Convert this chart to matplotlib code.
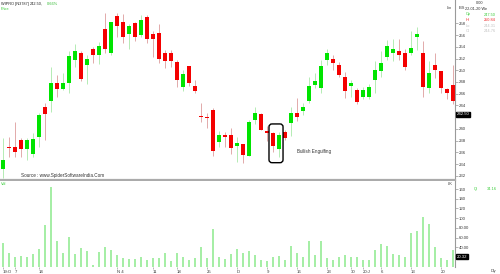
import matplotlib
matplotlib.use("Agg")
import matplotlib.pyplot as plt
from matplotlib.patches import FancyBboxPatch
import numpy as np

plt.rcParams['font.family'] = ['Liberation Sans', 'DejaVu Sans']

# daily WIPRO candles, 03-Oct-2019 .. 22-Jan-2020
opens = [233.1, 237.0, 237.0, 238.1, 236.6, 235.7, 238.7, 243.8, 244.8, 247.9,
         246.8, 247.9, 251.7, 252.9, 250.9, 253.6, 252.6, 257.0, 253.0, 259.2,
         258.3, 256.2, 258.0, 256.0, 259.1, 256.2, 256.3, 253.0, 253.0, 251.4,
         247.1, 250.7, 247.3, 242.2, 242.0, 243.2, 237.8, 238.9, 239.0, 237.1,
         237.4, 235.4, 241.6, 242.5, 239.6, 239.3, 236.5, 239.4, 241.0, 242.8,
         243.1, 244.8, 247.5, 246.9, 251.7, 251.9, 250.9, 248.9, 247.4, 246.6,
         245.5, 245.5, 248.3, 249.9, 252.2, 252.9, 253.2, 252.9, 253.0, 255.7,
         253.0, 246.9, 250.9, 249.8, 246.8, 247.50]
highs = [238.5, 238.7, 241.1, 238.5, 238.4, 239.3, 242.7, 244.4, 250.6, 249.2,
         249.5, 253.3, 254.4, 253.2, 252.6, 254.0, 254.8, 259.8, 258.3, 259.8,
         259.6, 257.8, 258.3, 259.4, 259.4, 256.7, 257.9, 253.5, 253.5, 251.7,
         250.0, 250.8, 248.3, 244.5, 242.8, 243.5, 239.7, 239.5, 240.1, 238.6,
         237.4, 241.5, 243.7, 242.7, 240.5, 239.5, 239.5, 239.8, 243.7, 245.2,
         244.5, 248.8, 249.6, 251.7, 253.6, 252.6, 251.4, 249.7, 248.3, 246.9,
         247.1, 247.7, 251.6, 253.3, 255.2, 255.3, 255.4, 253.7, 256.7, 257.3,
         255.0, 251.5, 252.9, 249.9, 246.9, 250.84]
lows = [231.6, 235.3, 235.3, 235.3, 234.7, 235.3, 237.0, 238.1, 242.9, 245.5,
        246.6, 246.1, 250.6, 248.2, 247.7, 251.2, 251.1, 252.9, 252.6, 255.6,
        254.7, 253.6, 255.0, 255.7, 254.7, 252.3, 251.2, 250.3, 250.6, 247.1,
        246.5, 247.3, 246.1, 241.1, 240.1, 235.4, 237.0, 237.0, 235.7, 234.4,
        234.2, 235.4, 240.8, 239.9, 238.0, 236.0, 235.3, 238.1, 238.8, 241.4,
        242.4, 244.4, 246.9, 246.2, 250.9, 250.0, 248.8, 245.2, 245.5, 244.2,
        245.1, 245.1, 246.2, 248.8, 251.7, 251.5, 251.7, 250.0, 252.6, 253.5,
        245.5, 246.2, 248.6, 246.1, 245.1, 244.31]
closes = [234.7, 236.7, 236.0, 236.6, 238.1, 238.3, 242.4, 242.5, 247.9, 246.8,
          247.9, 252.5, 253.3, 248.5, 252.0, 252.6, 254.2, 253.7, 258.2, 257.5,
          255.6, 257.5, 255.7, 258.6, 255.3, 255.3, 252.0, 251.6, 251.5, 248.3,
          249.4, 247.9, 246.5, 242.0, 241.8, 236.3, 239.0, 238.7, 236.7, 237.6,
          235.6, 241.1, 242.7, 239.9, 239.3, 237.1, 239.0, 238.4, 242.7, 242.1,
          243.8, 247.3, 248.2, 250.7, 252.9, 251.2, 249.2, 246.5, 247.9, 244.6,
          246.6, 247.2, 250.0, 251.2, 254.1, 253.7, 252.6, 250.6, 253.8, 256.2,
          247.1, 249.5, 250.0, 246.9, 246.1, 244.76]
volumes = [48, 29, 21, 22, 19, 26, 36, 86, 165, 52,
           28, 62, 26, 38, 32, 3, 31, 40, 34, 24,
           18, 15, 15, 20, 14, 18, 17, 28, 12, 28,
           20, 14, 17, 41, 18, 77, 19, 15, 26, 36,
           29, 33, 25, 14, 12, 21, 23, 14, 43, 29,
           21, 53, 25, 52, 18, 14, 19, 24, 21, 20,
           14, 14, 34, 46, 43, 27, 24, 20, 70, 73,
           102, 88, 41, 17, 14, 34.16]

tick_idx = [0, 2, 6, 19, 25, 29, 34, 39, 44, 49, 54, 58, 60, 63, 68, 73]
tick_labels = ['19:O', '7', '14', 'N 4', '11', '18', '25', 'D', '9', '16',
               '23', '30', '20:J', '6', '13', '20']
# 242 is hidden behind the last-price tag in the original
price_ticks = [232, 234, 236, 238, 240, 244, 246, 248, 250, 252, 254, 256, 258]
vol_ticks = [40, 60, 80, 100, 120, 140, 160]
vol_tick_labels = ['40.00', '60.00', '80.00', '100', '120', '140', '160']

GREEN = '#00e400'
RED = '#f40000'
GREEN_WICK = '#b4ecb4'
RED_WICK = '#e2aaaa'
AXIS_GRAY = '#9a9a9a'
TXT = '#383838'
FS = 3.1

o = np.array(opens)
h = np.array(highs)
l = np.array(lows)
c = np.array(closes)
x = np.arange(len(o))
up = c >= o

fig = plt.figure(figsize=(5, 2.74), dpi=100)
W, H = 500, 274

ax = fig.add_axes([0, 1 - 180 / H, 455 / W, 180 / H])
axv = fig.add_axes([0, 1 - 266.7 / H, 455 / W, (266.7 - 181) / H])

# candles
ax.vlines(x[up], l[up], h[up], color=GREEN_WICK, lw=0.7, zorder=1)
ax.vlines(x[~up], l[~up], h[~up], color=RED_WICK, lw=0.7, zorder=1)
body = np.maximum(np.abs(c - o), 0.18)
ax.bar(x[up], body[up], bottom=np.minimum(o, c)[up], width=0.68,
       color=GREEN, lw=0, zorder=2)
ax.bar(x[~up], body[~up], bottom=np.minimum(o, c)[~up], width=0.68,
       color=RED, lw=0, zorder=2)

ax.set_xlim(-0.5, 75.33)
ax.set_ylim(231.3, 261.97)
for s in ['top', 'left']:
    ax.spines[s].set_visible(False)
ax.spines['right'].set_color(AXIS_GRAY)
ax.spines['right'].set_linewidth(0.8)
ax.spines['bottom'].set_color('#ababab')
ax.spines['bottom'].set_linewidth(1.6)
ax.set_xticks([])
ax.yaxis.tick_right()
ax.set_yticks(price_ticks)
ax.tick_params(axis='y', direction='out', length=2, width=0.5, pad=0.8,
               labelsize=FS, colors=AXIS_GRAY, labelcolor=TXT)

# bullish engulfing marker
box = FancyBboxPatch((44.33, 234.25), 46.67 - 44.33, 240.85 - 234.25,
                     boxstyle='round,pad=0,rounding_size=0.5',
                     mutation_aspect=1.02, fill=False, ec='black', lw=1.0,
                     zorder=3)
ax.add_patch(box)
ax.text(49.0, 261.97 - 152 / 5.87, 'Bullish Engulfing', fontsize=3.3,
        color='#303030', va='center', ha='left')
ax.text(3.0, 261.97 - 176 / 5.87, 'Source : www.SpiderSoftwareIndia.Com',
        fontsize=3.3, color='#303030', va='center', ha='left')

# last price tag
ax.text(1.004, 242.5, '242.50', transform=ax.get_yaxis_transform(),
        fontsize=FS, color='white', va='center', ha='left',
        bbox=dict(boxstyle='square,pad=0.15', fc='black', ec='black'))

# volume
axv.bar(x, volumes, width=0.34, color='#a6eea6', lw=0)
axv.set_xlim(-0.5, 75.33)
axv.set_ylim(0, 176.7)
for s in ['top', 'left', 'bottom']:
    axv.spines[s].set_visible(False)
axv.spines['right'].set_color(AXIS_GRAY)
axv.spines['right'].set_linewidth(0.8)
axv.yaxis.tick_right()
axv.set_yticks(vol_ticks, vol_tick_labels)
axv.tick_params(axis='y', direction='out', length=2, width=0.5, pad=0.8,
                labelsize=FS, colors=AXIS_GRAY, labelcolor=TXT)
axv.set_xticks(tick_idx, tick_labels)
axv.tick_params(axis='x', direction='out', length=1.5, width=0.5, pad=0.6,
                labelsize=FS, colors=AXIS_GRAY, labelcolor=TXT)
for lab in axv.get_xticklabels():
    lab.set_ha('left')
axv.text(1.004, 20.32, '20.32', transform=axv.get_yaxis_transform(),
         fontsize=FS, color='white', va='center', ha='left',
         bbox=dict(boxstyle='square,pad=0.15', fc='black', ec='black'))


def ftext(px, py, s, color=TXT, size=2.8, ha='left'):
    fig.text(px / W, 1 - py / H, s, color=color, fontsize=size,
             ha=ha, va='center')


# header texts
ftext(1, 4, 'WIPRO [N3787]', color='#202020')
ftext(29.5, 4, '242.50,', color='#202020')
ftext(46.5, 4, '0.66%', color='#33bb33')
ftext(1, 9.5, 'Price', color='#33cc33')
ftext(447, 8, 'Lin')
ftext(459, 8, 'IBS')
ftext(476, 3.5, '0.00', color='#303030')
ftext(465, 9.5, '22-01-20 We', color='#303030')
ftext(466, 14.5, 'Op', color='#33cc33')
ftext(483.5, 14.5, '247.50', color='#33cc33')
ftext(466, 20, 'Hi', color='#ee2222')
ftext(483.5, 20, '250.84', color='#ee2222')
ftext(466, 25.7, 'Lo', color='#c0c0c0')
ftext(483.5, 25.7, '244.31', color='#c0c0c0')
ftext(466, 31, 'Cl', color='#c0c0c0')
ftext(483.5, 31, '244.76', color='#c0c0c0')
ftext(1, 184, 'Vol', color='#33cc33')
ftext(448, 184, 'LK')
ftext(474, 189, 'Qt', color='#33cc33')
ftext(487, 189, '34.16', color='#33cc33')
ftext(491, 271, 'Dly')

fig.savefig('out.png', dpi=100, facecolor='white')
